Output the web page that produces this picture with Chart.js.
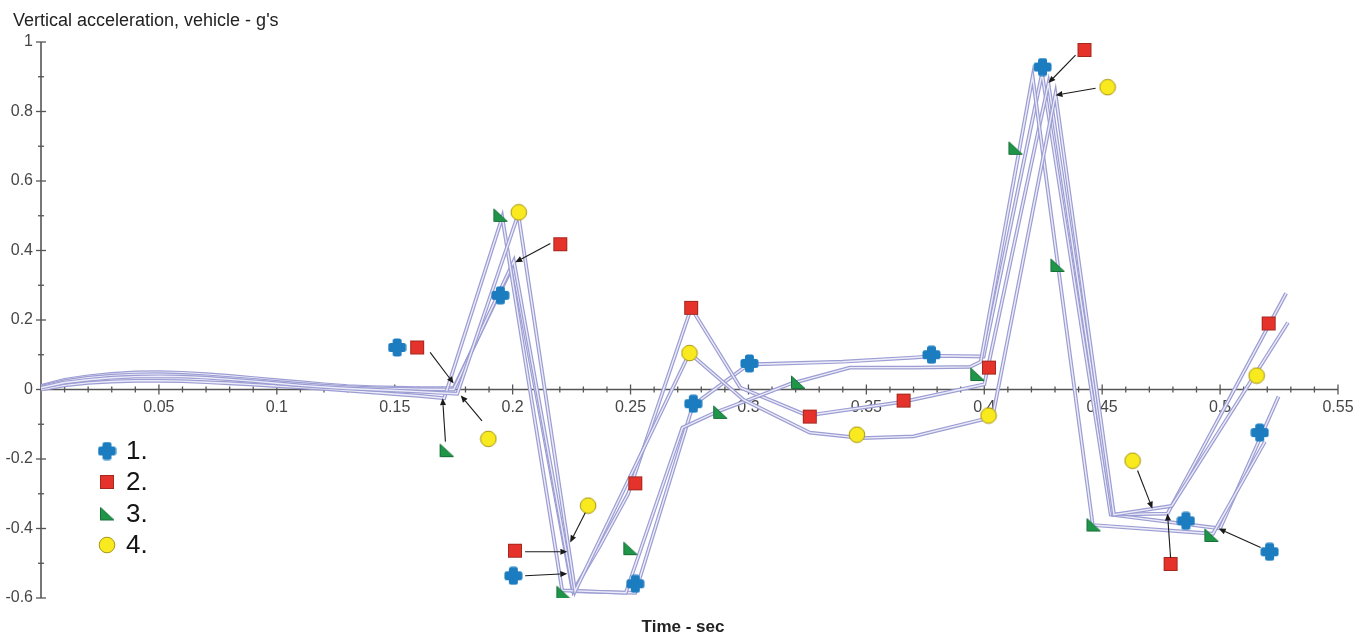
<!DOCTYPE html>
<html>
<head>
<meta charset="utf-8">
<script src="https://cdn.jsdelivr.net/npm/chart.js@4/dist/chart.umd.min.js"></script>
<style>
  html, body { margin: 0; padding: 0; background: #fff; }
  #wrap { width: 1369px; height: 637px; }
</style>
</head>
<body>
<div id="wrap"><canvas id="c" width="1369" height="637"></canvas></div>
<script>
// Vertical acceleration of the vehicle (g's) against time (s), four runs.
const curve1T = [0, 0.01, 0.02, 0.03, 0.04, 0.05, 0.06, 0.07, 0.08, 0.09, 0.10, 0.11, 0.12, 0.13, 0.14, 0.15, 0.16, 0.175, 0.2, 0.2255, 0.252, 0.2765, 0.30, 0.34, 0.37, 0.38, 0.3997, 0.4245, 0.4536, 0.50, 0.5248];
const curve1V = [0.01, 0.028, 0.038, 0.045, 0.049, 0.05, 0.048, 0.044, 0.039, 0.033, 0.027, 0.021, 0.015, 0.01, 0.007, 0.005, 0.004, 0.004, 0.355, -0.58, -0.585, -0.045, 0.072, 0.08, 0.092, 0.097, 0.095, 0.91, -0.36, -0.40, -0.02];

const curve2T = [0, 0.01, 0.02, 0.03, 0.04, 0.05, 0.06, 0.07, 0.08, 0.09, 0.10, 0.11, 0.12, 0.13, 0.14, 0.15, 0.16, 0.175, 0.2005, 0.2257, 0.237, 0.249, 0.2757, 0.2966, 0.325, 0.366, 0.40, 0.4272, 0.4545, 0.4777, 0.528];
const curve2V = [0.008, 0.024, 0.034, 0.04, 0.043, 0.044, 0.042, 0.038, 0.033, 0.028, 0.022, 0.016, 0.011, 0.007, 0.004, 0.002, 0.001, 0.0, 0.37, -0.58, -0.45, -0.30, 0.235, 0.005, -0.075, -0.035, 0.015, 0.88, -0.36, -0.357, 0.277];

const curve3T = [0, 0.01, 0.02, 0.03, 0.04, 0.05, 0.06, 0.07, 0.08, 0.09, 0.10, 0.11, 0.12, 0.13, 0.14, 0.15, 0.16, 0.171, 0.1956, 0.221, 0.248, 0.272, 0.286, 0.30, 0.318, 0.343, 0.37, 0.394, 0.3985, 0.4205, 0.446, 0.497, 0.519];
const curve3V = [0, 0.012, 0.019, 0.023, 0.025, 0.025, 0.024, 0.021, 0.018, 0.014, 0.01, 0.006, 0.002, -0.003, -0.008, -0.013, -0.018, -0.025, 0.496, -0.578, -0.585, -0.11, -0.066, -0.03, 0.017, 0.063, 0.063, 0.065, 0.08, 0.90, -0.39, -0.415, -0.15];

const curve4T = [0, 0.01, 0.02, 0.03, 0.04, 0.05, 0.06, 0.07, 0.08, 0.09, 0.10, 0.11, 0.12, 0.13, 0.14, 0.15, 0.16, 0.17, 0.1765, 0.2024, 0.2265, 0.275, 0.298, 0.326, 0.348, 0.37, 0.40, 0.4035, 0.4302, 0.455, 0.4795, 0.5288];
const curve4V = [0.005, 0.02, 0.028, 0.034, 0.037, 0.038, 0.037, 0.034, 0.029, 0.024, 0.018, 0.012, 0.007, 0.003, 0.0, -0.003, -0.006, -0.01, -0.012, 0.505, -0.58, 0.105, -0.03, -0.124, -0.14, -0.135, -0.085, -0.08, 0.85, -0.36, -0.335, 0.193];

// Identifying symbols placed beside each run
const crossT  = [0.151, 0.1948, 0.2003, 0.252, 0.2766, 0.3004, 0.3776, 0.4247, 0.4855, 0.5168, 0.521];
const crossV  = [0.121, 0.271, -0.536, -0.559, -0.041, 0.075, 0.1, 0.928, -0.378, -0.124, -0.467];
const squareT = [0.1595, 0.2202, 0.201, 0.252, 0.2757, 0.326, 0.3658, 0.402, 0.4425, 0.479, 0.5206];
const squareV = [0.121, 0.418, -0.464, -0.27, 0.235, -0.078, -0.032, 0.063, 0.977, -0.502, 0.19];
const triT    = [0.172, 0.1948, 0.2215, 0.2499, 0.288, 0.321, 0.397, 0.4132, 0.431, 0.4463, 0.4963];
const triV    = [-0.176, 0.501, -0.585, -0.458, -0.066, 0.02, 0.043, 0.694, 0.357, -0.39, -0.42];
const circT   = [0.1897, 0.2026, 0.232, 0.275, 0.346, 0.4018, 0.4523, 0.4629, 0.5155];
const circV   = [-0.142, 0.51, -0.334, 0.105, -0.13, -0.075, 0.87, -0.205, 0.04];

// Pointer arrows from a symbol to its run
const arrowFromT = [0.165, 0.1715, 0.187, 0.216, 0.2053, 0.2053, 0.2308, 0.4387, 0.4472, 0.465, 0.479, 0.5172];
const arrowFromV = [0.107, -0.15, -0.09, 0.42, -0.467, -0.536, -0.355, 0.962, 0.867, -0.233, -0.484, -0.455];
const arrowToT   = [0.175, 0.1703, 0.178, 0.2011, 0.2232, 0.2232, 0.2244, 0.4272, 0.4302, 0.4713, 0.4777, 0.4994];
const arrowToV   = [0.017, -0.025, -0.017, 0.366, -0.467, -0.53, -0.44, 0.882, 0.847, -0.343, -0.357, -0.40];

const legendLabels = ['1.', '2.', '3.', '4.'];
const xTitle = 'Time - sec';
const yTitle = "Vertical acceleration, vehicle - g's";

const FONT = 'Arial, "Liberation Sans", Helvetica, sans-serif';

// ---- symbol sprites ----
function sprite(w, h, draw) {
  const c = document.createElement('canvas');
  c.width = w; c.height = h;
  draw(c.getContext('2d'), w, h);
  return c;
}
function roundRect(g, x, y, w, h, r) {
  g.moveTo(x + r, y); g.lineTo(x + w - r, y); g.quadraticCurveTo(x + w, y, x + w, y + r);
  g.lineTo(x + w, y + h - r); g.quadraticCurveTo(x + w, y + h, x + w - r, y + h);
  g.lineTo(x + r, y + h); g.quadraticCurveTo(x, y + h, x, y + h - r);
  g.lineTo(x, y + r); g.quadraticCurveTo(x, y, x + r, y); g.closePath();
}
const crossImg = sprite(19, 19, (g) => {
  g.fillStyle = '#1c7cc0';
  g.beginPath(); roundRect(g, 0.5, 5, 18, 9, 2.5); g.fill();
  g.beginPath(); roundRect(g, 5, 0.5, 9, 18, 2.5); g.fill();
});
const squareImg = sprite(16, 16, (g) => {
  g.fillStyle = '#e5322a'; g.fillRect(1, 1, 14, 14);
  g.strokeStyle = '#a3281f'; g.lineWidth = 1; g.strokeRect(1.5, 1.5, 13, 13);
});
const triImg = sprite(16, 15, (g) => {
  g.fillStyle = '#1f9548'; g.strokeStyle = '#17703a'; g.lineWidth = 1;
  g.beginPath(); g.moveTo(1.5, 1); g.lineTo(1.5, 13.5); g.lineTo(15, 13.5); g.closePath();
  g.fill(); g.stroke();
});
const circImg = sprite(18, 18, (g) => {
  g.fillStyle = '#f8ea1f'; g.strokeStyle = '#a89512'; g.lineWidth = 1;
  g.beginPath(); g.arc(9, 9, 7.8, 0, Math.PI * 2); g.fill(); g.stroke();
});
const symbolImgs = [crossImg, squareImg, triImg, circImg];

const pts = (ts, vs) => ts.map((t, i) => ({ x: t, y: vs[i] }));

const datasets = [];
[[curve1T, curve1V], [curve2T, curve2V], [curve3T, curve3V], [curve4T, curve4V]].forEach(([ts, vs], k) => {
  // each run is drawn as a light tube: a lavender stroke with a pale core
  datasets.push({ type: 'line', data: pts(ts, vs), borderColor: '#9c9dd3', borderWidth: 3.8,
    pointRadius: 0, tension: 0, fill: false, order: 20 - 2 * k });
  datasets.push({ type: 'line', data: pts(ts, vs), borderColor: '#ececf9', borderWidth: 1.4,
    pointRadius: 0, tension: 0, fill: false, order: 19 - 2 * k });
});
[[crossT, crossV], [squareT, squareV], [triT, triV], [circT, circV]].forEach(([ts, vs], k) => {
  datasets.push({ type: 'scatter', data: pts(ts, vs), pointStyle: symbolImgs[k], pointRadius: 8,
    showLine: false, order: 0 });
});

// axis lines with crossing tick marks, the titles, arrows and the symbol key
const decor = {
  id: 'decor',
  beforeDatasetsDraw(chart) {
    const { ctx, scales: { x, y } } = chart;
    const x0 = x.getPixelForValue(0), y0 = y.getPixelForValue(0);
    ctx.save();
    ctx.strokeStyle = '#555'; ctx.lineWidth = 1.6; ctx.lineCap = 'butt';
    const seg = (a, b, c, d) => { ctx.beginPath(); ctx.moveTo(a, b); ctx.lineTo(c, d); ctx.stroke(); };
    seg(x0, y.getPixelForValue(y.max), x0, y.getPixelForValue(y.min));
    seg(x.getPixelForValue(x.min), y0, x.getPixelForValue(x.max), y0);
    ctx.lineWidth = 1.3;
    const ny = Math.round((y.max - y.min) / 0.1);
    for (let i = 0; i <= ny; i++) {
      const py = y.getPixelForValue(y.min + i * 0.1);
      const len = i % 2 === 0 ? 5 : 3;
      seg(x0 - len, py, x0 + len, py);
    }
    const nx = Math.round((x.max - x.min) / 0.01);
    for (let i = 1; i <= nx; i++) {
      const px = x.getPixelForValue(x.min + i * 0.01);
      const len = i % 5 === 0 ? 5 : 3;
      seg(px, y0 - len, px, y0 + len);
    }
    ctx.fillStyle = '#222';
    ctx.font = '18px ' + FONT;
    ctx.textAlign = 'left'; ctx.textBaseline = 'alphabetic';
    ctx.fillText(yTitle, 13, 26);
    ctx.font = 'bold 17px ' + FONT;
    ctx.textAlign = 'center'; ctx.textBaseline = 'middle';
    ctx.fillText(xTitle, 683, 627);
    ctx.restore();
  },
  afterDatasetsDraw(chart) {
    const { ctx, scales: { x, y } } = chart;
    ctx.save();
    ctx.strokeStyle = '#1a1a1a'; ctx.fillStyle = '#1a1a1a'; ctx.lineWidth = 1.1;
    for (let i = 0; i < arrowFromT.length; i++) {
      const x1 = x.getPixelForValue(arrowFromT[i]), y1 = y.getPixelForValue(arrowFromV[i]);
      const x2 = x.getPixelForValue(arrowToT[i]), y2 = y.getPixelForValue(arrowToV[i]);
      const a = Math.atan2(y2 - y1, x2 - x1), L = 7, W = 3;
      const bx = x2 - L * Math.cos(a), by = y2 - L * Math.sin(a);
      ctx.beginPath(); ctx.moveTo(x1, y1); ctx.lineTo(bx, by); ctx.stroke();
      ctx.beginPath(); ctx.moveTo(x2, y2);
      ctx.lineTo(bx + W * Math.sin(a), by - W * Math.cos(a));
      ctx.lineTo(bx - W * Math.sin(a), by + W * Math.cos(a));
      ctx.closePath(); ctx.fill();
    }
    // symbol key
    const rows = [451, 482, 514, 545];
    ctx.font = '26px ' + FONT;
    ctx.textAlign = 'left'; ctx.textBaseline = 'middle';
    ctx.fillStyle = '#141414';
    legendLabels.forEach((lab, i) => {
      const img = symbolImgs[i];
      ctx.drawImage(img, 107 - img.width / 2, rows[i] - img.height / 2);
      ctx.fillText(lab, 126, rows[i] + 1);
    });
    ctx.restore();
  }
};

new Chart(document.getElementById('c'), {
  type: 'line',
  data: { datasets },
  options: {
    responsive: false,
    animation: false,
    events: [],
    layout: { padding: { left: 0, top: 42, right: 31, bottom: 39 } },
    plugins: { legend: { display: false }, tooltip: { enabled: false }, title: { display: false } },
    scales: {
      x: {
        type: 'linear', min: 0, max: 0.55, position: { y: 0 },
        grid: { display: false, drawTicks: false }, border: { display: false },
        ticks: {
          stepSize: 0.05, autoSkip: false, maxRotation: 0, padding: 8,
          color: '#464646', font: { family: FONT, size: 16 },
          callback: (v) => Math.abs(v) < 1e-9 ? '' : String(+Number(v).toFixed(2))
        }
      },
      y: {
        type: 'linear', min: -0.6, max: 1, position: 'left',
        grid: { display: false, drawTicks: false }, border: { display: false },
        ticks: {
          stepSize: 0.2, padding: 8, color: '#464646', font: { family: FONT, size: 16 },
          callback: (v) => String(+Number(v).toFixed(1))
        },
        afterFit(s) { s.width = 41; }
      }
    }
  },
  plugins: [decor]
});
</script>
</body>
</html>
